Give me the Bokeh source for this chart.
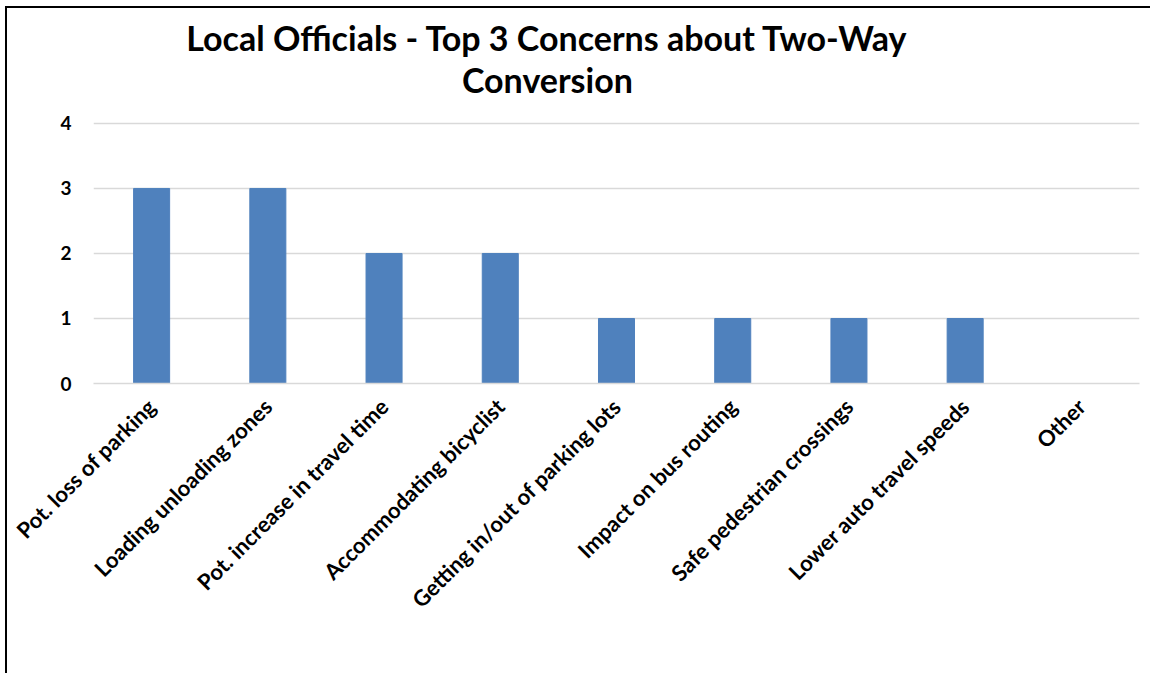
import math
from bokeh.plotting import figure
from bokeh.layouts import column
from bokeh.models import FixedTicker, Range1d, ColumnDataSource
from bokeh.core.properties import value
from bokeh.embed import file_html
from bokeh.resources import INLINE

categories = ["Pot. loss of parking", "Loading unloading zones", "Pot. increase in travel time",
              "Accommodating bicyclist", "Getting in/out of parking lots", "Impact on bus routing",
              "Safe pedestrian crossings", "Lower auto travel speeds", "Other"]
counts = [3, 3, 2, 2, 1, 1, 1, 1, 0]
y_ticks = [0, 1, 2, 3, 4]
title_lines = ["Local Officials - Top 3 Concerns about Two-Way", "Conversion"]

FONT = "Lato"
W = 1143

# title strip
t = figure(width=W, height=100, x_range=Range1d(0, W), y_range=Range1d(100, 0),
           output_backend="svg", toolbar_location=None, min_border=0,
           x_axis_location=None, y_axis_location=None)
t.outline_line_color = None
t.grid.grid_line_color = None
tsrc = ColumnDataSource(dict(x=[496, 496], y=[29, 71], text=title_lines))
t.text(x="x", y="y", text="text", source=tsrc, text_align="center", text_baseline="middle",
       text_font=value(FONT), text_font_style="bold", text_font_size="34px", text_color="black")

# main chart
p = figure(x_range=categories, y_range=(0, 4.03), width=W, height=565,
           output_backend="svg", toolbar_location=None,
           min_border_left=86, min_border_right=11, min_border_top=13, min_border_bottom=290)

p.vbar(x=categories, top=counts, width=0.31, color="#4F81BD", line_color="#4F81BD")

p.outline_line_color = None
p.xgrid.grid_line_color = None
p.ygrid.grid_line_color = "#D9D9D9"
p.ygrid.grid_line_width = 1.5
p.yaxis.ticker = FixedTicker(ticks=y_ticks)
p.yaxis.axis_line_color = None
p.yaxis.major_tick_line_color = None
p.yaxis.minor_tick_line_color = None
p.yaxis.major_label_text_font = FONT
p.yaxis.major_label_text_font_style = "bold"
p.yaxis.major_label_text_font_size = "19px"
p.yaxis.major_label_text_color = "black"
p.yaxis.major_label_standoff = 16

p.xaxis.axis_line_color = "#D9D9D9"
p.xaxis.axis_line_width = 1.5
p.xaxis.major_tick_line_color = None
p.xaxis.minor_tick_line_color = None
p.xaxis.major_label_orientation = math.pi / 4
p.xaxis.major_label_text_font = FONT
p.xaxis.major_label_text_font_style = "bold"
p.xaxis.major_label_text_font_size = "22px"
p.xaxis.major_label_text_color = "black"
p.xaxis.major_label_standoff = 13

layout = column(t, p, spacing=0, margin=(6, 0, 0, 5),
                styles={"border-left": "2px solid black", "border-top": "2px solid black"})

open("out.html", "w").write(file_html(layout, INLINE))
